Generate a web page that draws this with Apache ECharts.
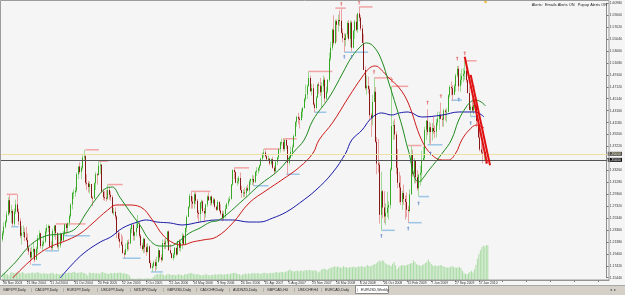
<!DOCTYPE html>
<html>
<head>
<meta charset="utf-8">
<title>EURUSD,Weekly</title>
<script src="https://cdn.jsdelivr.net/npm/echarts@6/dist/echarts.min.js"></script>
<style>
  html, body { margin: 0; padding: 0; background: #f5f5f5; }
  #chart { width: 625px; height: 295px; }
</style>
</head>
<body>
<div id="chart"></div>
<script>
// EURUSD weekly bars, bar 0 = week of 30 Nov 2003
const firstOpen = 1.1995;
const closes = [
  1.2177,1.2280,1.2390,1.2475,1.2592,
  1.2830,1.2620,1.2650,1.2440,1.2640,1.2760,1.2640,1.2480,1.2240,
  1.2290,1.2300,1.2210,1.2170,1.2040,1.1980,1.1880,1.1970,
  1.2020,1.1840,1.2020,1.2200,1.2280,1.2070,1.2100,1.2140,1.2310,
  1.2370,1.2400,1.2060,1.2040,1.2320,1.2410,1.2280,1.2060,1.2080,
  1.2270,1.2160,1.2270,1.2430,1.2370,1.2450,1.2570,1.2760,
  1.2950,1.2960,1.2990,1.3260,1.3390,1.3300,1.3370,1.3540,1.3560,
  1.3120,1.3110,1.3050,1.3100,1.2870,1.2860,1.3110,1.3260,1.3250,
  1.3400,1.3420,1.2970,1.2880,1.2870,1.2860,1.3000,1.2920,
  1.2880,1.2620,1.2640,1.2560,1.2280,1.2190,1.2140,1.2090,1.1950,
  1.1930,1.2020,1.2130,1.2110,1.2350,1.2420,1.2240,1.2300,1.2370,
  1.2440,1.2240,1.2080,1.2020,1.2190,1.2050,1.1970,1.2060,
  1.1790,1.1710,1.1740,1.1800,1.1740,1.1800,1.2000,1.1880,1.1840,
  1.2120,1.2100,1.2150,1.2310,1.2000,1.1950,1.1870,1.1930,1.2040,
  1.1930,1.2150,1.2040,1.2120,1.2240,1.2100,1.2370,1.2550,1.2720,
  1.2900,1.2810,1.2770,1.2930,1.2820,1.2620,1.2600,1.2790,
  1.2810,1.2650,1.2610,1.2760,1.2890,1.2830,1.2890,1.2780,1.2840,
  1.2720,1.2670,1.2800,1.2660,1.2610,1.2530,1.2600,1.2690,1.2770,
  1.2820,1.2850,1.3090,1.3330,1.3300,1.3120,1.3140,1.3200,
  1.3000,1.2950,1.2960,1.2950,1.3030,1.2990,1.3140,1.3180,1.3180,
  1.3130,1.3300,1.3320,1.3360,1.3410,1.3520,1.3600,1.3620,1.3560,
  1.3510,1.3520,1.3440,1.3510,1.3370,1.3310,1.3460,1.3540,
  1.3680,1.3790,1.3790,1.3680,1.3830,1.3740,1.3450,1.3530,1.3630,
  1.3710,1.3890,1.4130,1.4210,1.4180,1.4160,1.4300,1.4360,1.4510,
  1.4590,1.4720,1.4860,1.4640,1.4690,1.4420,1.4360,1.4530,
  1.4750,1.4730,1.4620,1.4720,1.4830,1.4520,1.4630,1.4830,1.5180,
  1.5360,1.5660,1.5440,1.5800,1.5740,1.5820,1.5810,1.5610,
  1.5520,1.5490,1.5580,1.5770,1.5510,1.5780,1.5360,1.5640,1.5790,
  1.5660,1.5930,1.5860,1.5680,1.5440,1.4990,1.4690,1.4730,1.4670,
  1.4240,1.4190,1.4460,1.4630,1.3800,1.3440,1.3420,1.2590,1.2980,
  1.2710,1.2560,1.2620,1.2710,1.2750,1.3340,1.4060,1.4080,1.3920,
  1.3370,1.3120,1.3040,1.2800,1.2950,1.2850,1.2800,1.2670,1.2650,
  1.2930,1.3580,1.3270,1.3480,1.3210,1.3030,1.3250,1.3280,
  1.3490,1.3530,1.4000,1.4150,1.3960,1.4040,1.3960,1.4030,1.3980,
  1.3970,1.4120,1.4180,1.4250,1.4180,1.4170,1.4320,1.4300,1.4300,
  1.4570,1.4710,1.4690,1.4580,1.4720,1.4900,1.5010,1.4720,
  1.4830,1.4890,1.4930,1.4980,1.4820,1.4610,1.4330,1.4380,
  1.4320,1.4410,1.4390,1.4150,1.3870,1.3670,1.3620,1.3610,1.3630,1.3530
];
const highs = [
  1.2197,1.2320,1.2460,1.2500,1.2648,
  1.2880,1.2928,1.2750,1.2680,1.2690,1.2840,1.2927,1.2690,1.2530,
  1.2400,1.2410,1.2370,1.2390,1.2280,1.2080,1.2040,1.2060,
  1.2120,1.2030,1.2060,1.2250,1.2330,1.2290,1.2160,1.2240,1.2370,
  1.2430,1.2430,1.2410,1.2150,1.2360,1.2410,1.2420,1.2300,1.2250,
  1.2290,1.2280,1.2320,1.2440,1.2450,1.2460,1.2600,1.2780,
  1.2970,1.3010,1.3050,1.3290,1.3390,1.3460,1.3400,1.3600,1.3667,
  1.3580,1.3260,1.3150,1.3140,1.3100,1.2900,1.3120,1.3300,1.3280,
  1.3478,1.3460,1.3430,1.3020,1.2980,1.3000,1.3090,1.3050,
  1.2980,1.2910,1.2700,1.2710,1.2580,1.2340,1.2300,1.2270,1.2230,
  1.2000,1.2110,1.2170,1.2180,1.2380,1.2440,1.2450,1.2310,1.2480,
  1.2586,1.2470,1.2270,1.2120,1.2210,1.2190,1.2100,1.2120,
  1.2080,1.1830,1.1780,1.1830,1.1850,1.1890,1.2040,1.2000,1.1930,
  1.2180,1.2180,1.2200,1.2320,1.2330,1.2100,1.1950,1.1960,1.2050,
  1.2040,1.2160,1.2180,1.2170,1.2290,1.2270,1.2380,1.2580,1.2730,
  1.2940,1.2977,1.2890,1.2960,1.2970,1.2850,1.2660,1.2800,
  1.2840,1.2830,1.2700,1.2770,1.2910,1.2960,1.2890,1.2910,1.2870,
  1.2860,1.2740,1.2830,1.2810,1.2760,1.2660,1.2650,1.2750,1.2790,
  1.2870,1.2900,1.3100,1.3340,1.3367,1.3310,1.3200,1.3230,
  1.3290,1.3070,1.3010,1.3040,1.3060,1.3090,1.3170,1.3190,1.3250,
  1.3240,1.3320,1.3380,1.3380,1.3420,1.3530,1.3620,1.3680,1.3660,
  1.3600,1.3570,1.3530,1.3520,1.3550,1.3400,1.3480,1.3550,
  1.3690,1.3800,1.3850,1.3850,1.3840,1.3850,1.3740,1.3570,1.3720,
  1.3750,1.3920,1.4140,1.4230,1.4280,1.4220,1.4350,1.4380,1.4530,
  1.4750,1.4750,1.4967,1.4900,1.4760,1.4760,1.4450,1.4560,
  1.4760,1.4790,1.4860,1.4790,1.4900,1.4870,1.4710,1.4840,1.5280,
  1.5460,1.5680,1.5900,1.5830,1.5830,1.5910,1.5980,1.6018,
  1.5680,1.5600,1.5600,1.5800,1.5820,1.5810,1.5810,1.5660,1.5820,
  1.5910,1.5940,1.6038,1.5900,1.5740,1.5590,1.5050,1.4900,1.4880,
  1.4720,1.4280,1.4580,1.4860,1.4710,1.3880,1.3850,1.3460,1.3300,
  1.3000,1.2980,1.2780,1.2970,1.2810,1.3370,1.4720,1.4150,1.4180,
  1.3970,1.3680,1.3300,1.3240,1.2990,1.3090,1.2910,1.2960,1.2740,
  1.3010,1.3738,1.3670,1.3530,1.3480,1.3330,1.3270,1.3400,
  1.3650,1.3720,1.4050,1.4160,1.4340,1.4130,1.4110,1.4110,1.4210,
  1.4070,1.4180,1.4300,1.4300,1.4450,1.4260,1.4350,1.4340,1.4360,
  1.4590,1.4740,1.4800,1.4740,1.4760,1.4930,1.5060,1.5060,
  1.4930,1.5010,1.5020,1.5144,1.5140,1.4840,1.4720,1.4420,
  1.4520,1.4460,1.4580,1.4440,1.4170,1.4000,1.3790,1.3750,1.3650,1.3640
];
const lows = [
  1.1985,1.2140,1.2240,1.2360,1.2450,
  1.2570,1.2590,1.2450,1.2390,1.2400,1.2600,1.2620,1.2420,1.2200,
  1.2090,1.2220,1.2150,1.2140,1.1990,1.1920,1.1760,1.1840,
  1.1870,1.1801,1.1860,1.1950,1.2160,1.2030,1.1990,1.2060,1.2120,
  1.2270,1.2300,1.2040,1.1990,1.2000,1.2220,1.2170,1.2030,1.2000,
  1.2040,1.2110,1.2150,1.2240,1.2260,1.2280,1.2400,1.2530,
  1.2680,1.2850,1.2890,1.2960,1.3180,1.3270,1.3180,1.3330,1.3500,
  1.3080,1.3000,1.2960,1.2940,1.2860,1.2730,1.2870,1.3000,1.3090,
  1.3240,1.3260,1.2950,1.2830,1.2820,1.2810,1.2840,1.2840,
  1.2820,1.2600,1.2580,1.2510,1.2200,1.2150,1.2040,1.2070,1.1950,
  1.1867,1.1930,1.1980,1.2000,1.2100,1.2280,1.2160,1.2160,1.2230,
  1.2380,1.2200,1.2030,1.1990,1.1950,1.1960,1.1910,1.1960,
  1.1780,1.1690,1.1640,1.1710,1.1650,1.1680,1.1800,1.1830,1.1800,
  1.1820,1.2020,1.2020,1.2110,1.1990,1.1930,1.1860,1.1830,1.1870,
  1.1900,1.1920,1.1990,1.1980,1.2020,1.2090,1.2100,1.2300,1.2560,
  1.2690,1.2690,1.2690,1.2690,1.2760,1.2530,1.2460,1.2470,
  1.2690,1.2620,1.2460,1.2540,1.2720,1.2820,1.2740,1.2740,1.2750,
  1.2690,1.2650,1.2660,1.2640,1.2580,1.2480,1.2500,1.2530,1.2680,
  1.2730,1.2800,1.2840,1.3070,1.3180,1.3110,1.3070,1.3100,
  1.2990,1.2870,1.2880,1.2880,1.2870,1.2980,1.2940,1.3080,1.3080,
  1.3070,1.3120,1.3230,1.3270,1.3310,1.3390,1.3500,1.3540,1.3540,
  1.3480,1.3480,1.3410,1.3410,1.3350,1.3260,1.3300,1.3410,
  1.3510,1.3620,1.3740,1.3640,1.3640,1.3680,1.3261,1.3420,1.3520,
  1.3560,1.3720,1.3880,1.4050,1.4090,1.4020,1.4150,1.4200,1.4350,
  1.4470,1.4510,1.4720,1.4630,1.4570,1.4400,1.4290,1.4340,
  1.4530,1.4590,1.4560,1.4360,1.4630,1.4450,1.4490,1.4600,1.4790,
  1.5140,1.5320,1.5400,1.5420,1.5460,1.5630,1.5720,1.5590,
  1.5450,1.5290,1.5390,1.5520,1.5480,1.5370,1.5300,1.5350,1.5510,
  1.5630,1.5610,1.5800,1.5640,1.5440,1.4990,1.4660,1.4580,1.4600,
  1.4170,1.3880,1.4070,1.4500,1.3780,1.3260,1.3290,1.2440,1.2330,
  1.2530,1.2450,1.2420,1.2550,1.2510,1.2690,1.3320,1.3830,1.3840,
  1.3260,1.3030,1.2790,1.2750,1.2670,1.2750,1.2510,1.2550,1.2457,
  1.2630,1.2920,1.3220,1.3110,1.3110,1.2990,1.2890,1.3070,
  1.3130,1.3500,1.3500,1.3830,1.3910,1.3770,1.3750,1.3820,1.3930,
  1.3860,1.3870,1.4070,1.4000,1.4170,1.4050,1.4050,1.4150,1.4120,
  1.4290,1.4530,1.4570,1.4480,1.4580,1.4630,1.4870,1.4640,
  1.4630,1.4750,1.4790,1.4830,1.4780,1.4600,1.4320,1.4220,
  1.4300,1.4260,1.4390,1.4040,1.3860,1.3640,1.3580,1.3440,1.3480,1.3430
];
const volumes = [
  42,48,40,36,30,46,52,44,48,50,
  46,50,44,52,48,40,44,46,42,48,
  50,46,44,52,48,46,40,46,42,44,
  40,42,46,48,44,38,42,40,36,40,
  42,40,44,46,48,50,46,52,54,48,
  46,50,48,52,44,46,40,30,50,46,
  44,48,42,46,44,40,50,52,48,44,
  42,40,44,46,42,48,44,46,50,48,
  44,42,46,40,38,30,12,8,10,6,
  8,10,12,8,6,10,8,10,12,8,
  10,20,30,36,40,38,42,40,34,30,
  36,40,38,34,32,36,30,34,38,36,
  32,30,36,40,38,42,44,46,40,38,
  36,40,34,32,30,34,36,38,32,30,
  34,32,36,38,34,36,40,38,34,36,
  38,40,36,42,44,46,48,42,40,38,
  30,36,40,42,38,44,40,42,46,44,
  42,46,44,40,42,46,48,44,42,46,
  44,48,46,50,52,48,50,54,52,50,
  56,58,62,70,60,58,56,60,62,58,
  60,62,58,64,66,62,68,64,60,62,
  66,58,50,56,68,72,76,70,66,74,
  78,82,86,90,84,88,86,82,80,92,
  86,84,80,82,86,84,88,82,84,90,
  86,92,88,84,90,98,92,88,94,100,
  104,110,118,126,122,130,124,112,104,100,
  96,92,106,118,96,70,84,92,96,98,
  94,96,100,104,108,112,128,118,104,100,
  96,92,98,104,112,120,134,118,104,96,
  92,96,90,94,98,96,90,86,84,80,
  82,88,90,86,82,80,84,86,78,60,
  48,40,36,44,52,60,50,70,100,140,
  170,195,215,225,220,230,228
];

// moving averages: [week index, price]
const maGreen = [
  [0,1.1556],[10,1.1805],[20,1.2087],[30,1.2236],[40,1.2270],[50,1.2352],[57,1.2601],
  [64,1.2850],[70,1.3016],[75,1.3049],[80,1.2883],[87,1.2634],[94,1.2402],[100,1.2170],
  [107,1.2070],[114,1.2070],[120,1.2153],[127,1.2286],[134,1.2369],[141,1.2468],[147,1.2502],
  [163,1.2834],[174,1.3083],[187,1.3331],[197,1.3630],[204,1.3829],[210,1.4162],[221,1.4543],
  [230,1.4942],[236,1.5207],[243,1.5406],[246,1.5440],[251,1.5373],[256,1.5158],[261,1.4776],
  [266,1.4378],[270,1.4046],[274,1.3664],[281,1.3133],[288,1.3331],[297,1.3613],[303,1.3829],
  [308,1.4162],[313,1.4378],[316,1.4461],[319,1.4494],[323,1.4461],[326,1.4395]
];
const maRed = [
  [8,1.1539],[22,1.1871],[33,1.2054],[45,1.2170],[54,1.2286],[62,1.2452],[72,1.2668],
  [78,1.2751],[85,1.2751],[94,1.2717],[102,1.2502],[109,1.2253],[116,1.2120],[122,1.2087],
  [129,1.2137],[136,1.2170],[145,1.2220],[156,1.2452],[167,1.2784],[179,1.3000],[189,1.3166],
  [201,1.3381],[210,1.3613],[214,1.3829],[223,1.4112],[234,1.4543],[243,1.4875],[248,1.5024],
  [252,1.5058],[256,1.4991],[261,1.4859],[268,1.4693],[274,1.4444],[283,1.3829],[290,1.3580],
  [297,1.3497],[301,1.3497],[306,1.3613],[310,1.3829],[315,1.3995],[320,1.4078],[325,1.4029]
];
const maBlue = [
  [40,1.1539],[47,1.1738],[56,1.1954],[67,1.2137],[74,1.2220],[82,1.2369],[92,1.2468],
  [98,1.2502],[105,1.2468],[114,1.2452],[122,1.2419],[134,1.2468],[145,1.2502],[156,1.2502],
  [167,1.2468],[174,1.2468],[183,1.2535],[192,1.2634],[201,1.2784],[212,1.3000],[223,1.3282],
  [232,1.3613],[236,1.3829],[243,1.3995],[248,1.4162],[252,1.4244],[256,1.4278],[263,1.4244],
  [268,1.4278],[274,1.4294],[283,1.4211],[297,1.4244],[308,1.4294],[319,1.4294],[325,1.4211]
];

// fractal arrows
const fractalHighs = [[229,1.6090],[241,1.6110],[251,1.4960],[263,1.4820],[287,1.4450],[296,1.4560],[307,1.5180],[312,1.5270],[318,1.4705]];
const fractalLows = [[231,1.5210],[236,1.5210],[256,1.2240],[274,1.2360],[281,1.2780],[289,1.3610],[308,1.4500],[316,1.4110]];

// short resistance / support marks: [from week, to week, price]
const resistance = [
  [4,11,1.2928],[37,57,1.2437],[57,66,1.3667],[66,72,1.3478],[72,82,1.3090],[128,141,1.2977],
  [157,167,1.3367],[177,188,1.3680],[190,199,1.3850],[207,223,1.4967],[225,232,1.6018],
  [241,250,1.6038],[251,263,1.4860],[263,274,1.4720],[274,283,1.3738],[312,320,1.5144]
];
const support = [
  [7,12,1.2390],[21,27,1.1760],[30,39,1.1990],[42,60,1.2240],[82,94,1.1867],[101,109,1.1640],
  [170,180,1.3070],[192,201,1.3261],[211,219,1.4290],[231,247,1.5286],[256,265,1.2330],
  [274,283,1.2457],[281,288,1.2890],[287,297,1.3750],[303,310,1.4490],[316,322,1.4220]
];

// drawn trend lines
const trendA = [[312,1.5210],[327,1.3440]];
const trendB = [[316,1.4910],[329,1.3410]];

const askLine = 1.3626;
const bidLine = 1.3531;

const priceMin = 1.1544, priceMax = 1.6098, priceStep = 0.0198;
const tickLabels = [
  '30 Nov 2003','21 Mar 2004','11 Jul 2004','31 Oct 2004','20 Feb 2005','12 Jun 2005',
  '2 Oct 2005','22 Jan 2006','14 May 2006','3 Sep 2006','24 Dec 2006','15 Apr 2007',
  '5 Aug 2007','25 Nov 2007','16 Mar 2008','6 Jul 2008','26 Oct 2008','15 Feb 2009',
  '7 Jun 2009','27 Sep 2009','17 Jan 2010'
];
const tabs = [
  'GBPJPY,Daily','CADJPY,Daily','EURJPY,Daily','USDJPY,Daily','NZDJPY,Daily','GBPUSD,Daily',
  'CADCHF,Daily','AUDNZD,Daily','GBPCAD,H4','USDCHF,H4','EURCAD,Daily','EURUSD,Weekly'
];
const tabX = [3,35,67,101,134,167,200,233,267,298,325,361];

const SLOTS = 408;
const slots = [];
for (let i = 0; i < SLOTS; i++) slots.push(String(i));

const bars = closes.map(function (c, i) {
  const o = i === 0 ? firstOpen : closes[i - 1];
  return [i, o, c, Math.min(lows[i], o, c), Math.max(highs[i], o, c)];
});

const FONT = 'Liberation Sans, Arial, sans-serif';

function renderCandle(params, api) {
  const i = api.value(0);
  const o = api.value(1), c = api.value(2), l = api.value(3), h = api.value(4);
  const pH = api.coord([i, h]), pL = api.coord([i, l]);
  const pO = api.coord([i, o]), pC = api.coord([i, c]);
  const x = Math.floor(pH[0]) + 0.5;
  const up = c >= o;
  return {
    type: 'group',
    children: [
      { type: 'line', shape: { x1: x, y1: pH[1], x2: x, y2: pL[1] },
        style: { stroke: up ? '#a0d898' : '#e8a4a4', lineWidth: 1 } },
      { type: 'rect', shape: { x: x - 0.5, y: Math.min(pO[1], pC[1]), width: 1, height: Math.max(1, Math.abs(pO[1] - pC[1])) },
        style: { fill: up ? '#36a826' : '#861818' } }
    ]
  };
}

function levelRenderer(color) {
  return function (params, api) {
    const a = api.coord([api.value(0), api.value(2)]);
    const b = api.coord([api.value(1), api.value(2)]);
    return { type: 'line', shape: { x1: a[0], y1: a[1], x2: b[0], y2: b[1] },
      style: { stroke: color, lineWidth: 1.5 } };
  };
}

const chart = echarts.init(document.getElementById('chart'));

const graphics = [
  { type: 'rect', shape: { x: 0.5, y: 0.5, width: 608.5, height: 279.5 }, style: { fill: 'none', stroke: '#9c9c9c', lineWidth: 1 }, z: 100 },
  { type: 'rect', shape: { x: 0, y: 286, width: 625, height: 9 }, style: { fill: '#d4d0c8' }, z: 100 },
  { type: 'line', shape: { x1: 0, y1: 285.5, x2: 625, y2: 285.5 }, style: { stroke: '#a8a8a8', lineWidth: 1 }, z: 100 },
  { type: 'rect', shape: { x: 355.5, y: 285.5, width: 33, height: 8 }, style: { fill: '#ffffff', stroke: '#8a8a8a', lineWidth: 1 }, z: 101 },
  { type: 'text', right: 18, top: 3, style: { text: 'Alerts:  Emails Alerts ON   Popup Alerts ON', fill: '#222', font: '3.9px ' + FONT }, z: 100 },
  { type: 'text', left: 610, top: 287.5, style: { text: '\u25C2  \u25B8', fill: '#555', font: '4px ' + FONT }, z: 102 }
];
tabs.forEach(function (t, k) {
  graphics.push({ type: 'text', left: tabX[k], top: 288, style: { text: t, fill: '#222', font: '3.6px ' + FONT }, z: 102 });
  if (k > 0) {
    graphics.push({ type: 'text', left: tabX[k] - 4, top: 287.8, style: { text: '|', fill: '#777', font: '4px ' + FONT }, z: 102 });
  }
});

const option = {
  animation: false,
  backgroundColor: '#f5f5f5',
  textStyle: { fontFamily: FONT },
  grid: [
    { left: 0, right: 16, top: 3.3, height: 274.4 },
    { left: 0, right: 16, top: 219, bottom: 15 }
  ],
  xAxis: [
    { type: 'category', gridIndex: 0, data: slots, boundaryGap: true, show: false },
    {
      type: 'category', gridIndex: 1, data: slots, boundaryGap: true,
      axisLine: { show: true, lineStyle: { color: '#8c8c8c', width: 1 } },
      axisTick: { show: true, interval: 15, alignWithLabel: true, length: 2, lineStyle: { color: '#777' } },
      axisLabel: {
        interval: 15, align: 'left', margin: 2, fontSize: 3.4, color: '#333',
        formatter: function (v, idx) { return tickLabels[idx / 16] || ''; }
      },
      splitLine: { show: false }
    }
  ],
  yAxis: [
    {
      type: 'value', gridIndex: 0, position: 'right', min: priceMin, max: priceMax, interval: priceStep,
      axisLine: { show: true, lineStyle: { color: '#8c8c8c', width: 1 } },
      axisTick: { show: true, length: 2, lineStyle: { color: '#777' } },
      axisLabel: {
        margin: 3, fontSize: 3.4, color: '#333',
        formatter: function (v) { return Math.abs(v - 1.3524) < 0.001 ? '' : v.toFixed(5); }
      },
      splitLine: { show: false }
    },
    { type: 'value', gridIndex: 1, min: 0, max: 400, show: false }
  ],
  series: [
    {
      name: 'Volume', type: 'bar', xAxisIndex: 1, yAxisIndex: 1, data: volumes,
      barWidth: 1, itemStyle: { color: '#a9dca4' }, z: 1
    },
    {
      name: 'Resistance', type: 'custom', xAxisIndex: 0, yAxisIndex: 0, data: resistance,
      encode: { x: [0, 1], y: 2 }, renderItem: levelRenderer('#f2a4a4'), clip: false, z: 2
    },
    {
      name: 'Support', type: 'custom', xAxisIndex: 0, yAxisIndex: 0, data: support,
      encode: { x: [0, 1], y: 2 }, renderItem: levelRenderer('#9cc6e6'), clip: false, z: 2
    },
    {
      name: 'EURUSD', type: 'custom', xAxisIndex: 0, yAxisIndex: 0, data: bars,
      encode: { x: 0, y: [1, 2, 3, 4] }, renderItem: renderCandle, z: 3,
      markLine: {
        silent: true, symbol: 'none',
        data: [
          { yAxis: askLine, lineStyle: { color: '#eee0a0', width: 1, type: 'solid' },
            label: { position: 'end', distance: 1, fontSize: 3.4, color: '#f4f0c0', backgroundColor: '#4a4a4a', padding: [0.5, 1],
              formatter: function (p) { return p.value.toFixed(5); } } },
          { yAxis: bidLine, lineStyle: { color: '#555555', width: 1, type: 'solid' },
            label: { position: 'end', distance: 1, fontSize: 3.4, color: '#ffffff', backgroundColor: '#111111', padding: [0.5, 1],
              formatter: function (p) { return p.value.toFixed(5); } } }
        ]
      }
    },
    {
      name: 'MA blue', type: 'line', xAxisIndex: 0, yAxisIndex: 0, data: maBlue, smooth: 0.4,
      showSymbol: false, lineStyle: { color: '#1a1aa8', width: 1 }, z: 4
    },
    {
      name: 'MA red', type: 'line', xAxisIndex: 0, yAxisIndex: 0, data: maRed, smooth: 0.4,
      showSymbol: false, lineStyle: { color: '#cc1a1a', width: 1 }, z: 4
    },
    {
      name: 'MA green', type: 'line', xAxisIndex: 0, yAxisIndex: 0, data: maGreen, smooth: 0.4,
      showSymbol: false, lineStyle: { color: '#1f8a1f', width: 1 }, z: 4
    },
    {
      name: 'Fractal up', type: 'scatter', xAxisIndex: 0, yAxisIndex: 0, data: fractalHighs, clip: false,
      symbol: 'path://M3,0 L6,3 L4,3 L4,8 L2,8 L2,3 L0,3 Z', symbolSize: [3, 4],
      itemStyle: { color: '#e05a5a' }, z: 5
    },
    {
      name: 'Fractal down', type: 'scatter', xAxisIndex: 0, yAxisIndex: 0, data: fractalLows, clip: false,
      symbol: 'path://M3,0 L6,3 L4,3 L4,8 L2,8 L2,3 L0,3 Z', symbolSize: [3, 4],
      itemStyle: { color: '#5a86d0' }, z: 5
    },
    {
      name: 'Trend A', type: 'line', xAxisIndex: 0, yAxisIndex: 0, data: trendA, showSymbol: false,
      lineStyle: { color: '#e01010', width: 2 }, z: 6
    },
    {
      name: 'Trend B', type: 'line', xAxisIndex: 0, yAxisIndex: 0, data: trendB, showSymbol: false,
      lineStyle: { color: '#e01010', width: 2 }, z: 6
    },
    {
      name: 'Marker', type: 'scatter', xAxisIndex: 0, yAxisIndex: 0, data: [[326, 1.6125]], clip: false,
      symbol: 'circle', symbolSize: 3, itemStyle: { color: '#f0b820' }, z: 6
    }
  ],
  graphic: graphics
};

chart.setOption(option);
window.addEventListener('resize', function () { chart.resize(); });
</script>
</body>
</html>
